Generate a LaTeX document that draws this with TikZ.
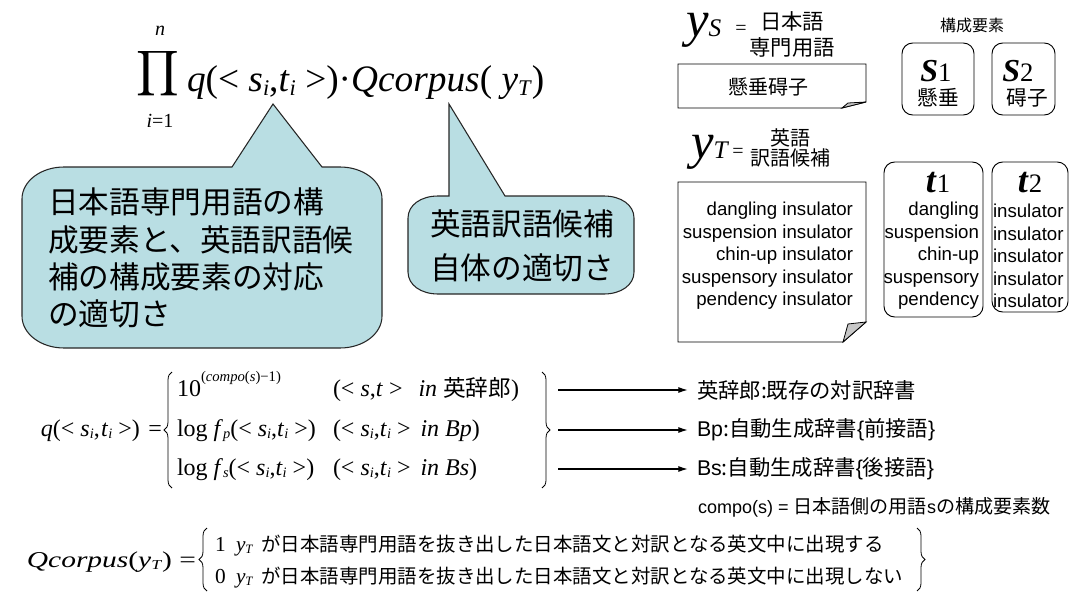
\documentclass[tikz,border=0pt]{standalone}
\usepackage{graphicx}
\usepackage{fontspec}
\setmainfont{Liberation Sans}
\newfontfamily\jp{Noto Sans CJK JP}
\newfontfamily\tms{Liberation Serif}
\usetikzlibrary{arrows.meta,decorations.pathreplacing}
\definecolor{callfill}{RGB}{185,222,227}
\newcommand{\lo}[1]{\raisebox{-0.1em}{\scalebox{0.6}{#1}}}
\newcommand{\eqf}{\tms\fontsize{18pt}{18pt}\selectfont}
\newcommand{\qjp}{\jp\fontsize{14.6pt}{14.6pt}\selectfont}
\begin{document}
\begin{tikzpicture}[x=0.75pt,y=-0.75pt,
  lab/.style={inner sep=0pt, outer sep=0pt},
  callout/.style={draw=black!85, fill=callfill, line width=0.8pt},
  docbox/.style={draw=black, line width=0.7pt},
  flap/.style={draw=black, fill=black!22, line width=0.6pt},
  rbox/.style={draw=black, line width=0.7pt, rounded corners=8pt},
  arr/.style={-{Latex[length=7pt,width=4.5pt]}, line width=0.8pt},
  brc/.style={decorate, decoration={brace, amplitude=6pt}, line width=0.6pt}]
\useasboundingbox (0,0) rectangle (1070,592);

% ---------- top formula ----------
\node[lab] (prod) at (158,74) {\resizebox*{32pt}{38pt}{$\displaystyle\prod$}};
\node[lab] (pn) at (160,31) {\tms\fontsize{15pt}{15pt}\selectfont\textit{n}};
\node[lab] (pi) at (160,121) {\tms\fontsize{15pt}{15pt}\selectfont\textit{i}=1};
\node[lab, anchor=base west] (topf) at (187,92) {\tms\fontsize{28pt}{28pt}\selectfont
  \textit{q}(< \textit{s}\lo{\textit{i}},\textit{t}\lo{\textit{i}} >)·\textit{Qcorpus}( \textit{y}\lo{\textit{T}})};

% ---------- callout 1 ----------
\draw[callout] (64,167) -- (232,167) -- (273,104) -- (322,167) -- (340,167)
  .. controls (363,167) and (382,181) .. (382,199) -- (382,316)
  .. controls (382,334) and (363,348) .. (340,348) -- (64,348)
  .. controls (41,348) and (22,334) .. (22,316) -- (22,199)
  .. controls (22,181) and (41,167) .. (64,167) -- cycle;
\node[lab, anchor=west, align=left, font=\jp\fontsize{23pt}{27.8pt}\selectfont] (c1t) at (48,258)
  {日本語専門用語の構\\成要素と、英語訳語候\\補の構成要素の対応\\の適切さ};

% ---------- callout 2 ----------
\draw[callout] (438,196) -- (449,196) -- (449,104) -- (505,196) -- (604,196)
  .. controls (621,196) and (634,205) .. (634,218) -- (634,272)
  .. controls (634,285) and (621,294) .. (604,294) -- (438,294)
  .. controls (421,294) and (408,285) .. (408,272) -- (408,218)
  .. controls (408,205) and (421,196) .. (438,196) -- cycle;
\node[lab, anchor=west, align=left, font=\jp\fontsize{23pt}{33pt}\selectfont] (c2t) at (430,246)
  {英語訳語候補\\自体の適切さ};

% ---------- y_S ----------
\node[lab, anchor=base west] (ysl) at (686,37) {\tms\fontsize{38pt}{38pt}\selectfont\textit{y}{\fontsize{19pt}{19pt}\selectfont\textit{S}}};
\node[lab] (yseq) at (741,30) {\tms\fontsize{15pt}{15pt}\selectfont =};
\node[lab, align=center, font=\jp\fontsize{16pt}{19.5pt}\selectfont] (ysj) at (792,34) {日本語\\専門用語};
\node[lab, font=\jp\fontsize{12pt}{12pt}\selectfont] (kosei) at (972,25) {構成要素};

\draw[docbox] (678,64) -- (866,64) -- (866,102) -- (842,108) -- (678,108) -- cycle;
\draw[flap] (842,108) -- (848,103) -- (866,102) -- cycle;
\node[lab, font=\jp\fontsize{15pt}{15pt}\selectfont] (kensui) at (768,87) {懸垂碍子};

\draw[rbox] (902,43) rectangle (974,115);
\node[lab, anchor=base] (s1) at (936,82) {\tms\fontsize{24pt}{24pt}\selectfont\textbf{\textit{S}}{\fontsize{20pt}{20pt}\selectfont 1}};
\node[lab, font=\jp\fontsize{15.5pt}{15.5pt}\selectfont] (s1j) at (938,98) {懸垂};
\draw[rbox] (992,43) rectangle (1055,115);
\node[lab, anchor=base] (s2) at (1018,82) {\tms\fontsize{24pt}{24pt}\selectfont\textbf{\textit{S}}{\fontsize{20pt}{20pt}\selectfont 2}};
\node[lab, font=\jp\fontsize{15.5pt}{15.5pt}\selectfont] (s2j) at (1027,98) {碍子};

% ---------- y_T ----------
\node[lab, anchor=base west] (ytl) at (691,158) {\tms\fontsize{38pt}{38pt}\selectfont\textit{y}{\fontsize{19pt}{19pt}\selectfont\textit{T}}};
\node[lab] (yteq) at (738,153) {\tms\fontsize{15pt}{15pt}\selectfont =};
\node[lab, align=center, font=\jp\fontsize{15pt}{15pt}\selectfont] (ytj) at (790,148) {英語\\訳語候補};

\draw[docbox] (678,182) -- (866,182) -- (866,322) -- (843,342) -- (678,342) -- cycle;
\draw[flap] (843,342) -- (848,324) -- (866,322) -- cycle;
\node[lab, anchor=east, align=right, font=\fontsize{14pt}{16.9pt}\selectfont] (cands) at (853,256)
  {dangling insulator\\suspension insulator\\chin-up insulator\\suspensory insulator\\pendency insulator};

\draw[rbox] (884,162) rectangle (983,317);
\node[lab, anchor=base] (t1) at (938,192) {\tms\fontsize{27pt}{27pt}\selectfont\textbf{\textit{t}}{\fontsize{20pt}{20pt}\selectfont 1}};
\node[lab, anchor=east, align=right, font=\fontsize{14pt}{16.9pt}\selectfont] (t1w) at (979,256)
  {dangling\\suspension\\chin-up\\suspensory\\pendency};
\draw[rbox] (992,162) rectangle (1068,312);
\node[lab, anchor=base] (t2) at (1030,192) {\tms\fontsize{27pt}{27pt}\selectfont\textbf{\textit{t}}{\fontsize{20pt}{20pt}\selectfont 2}};
\node[lab, anchor=west, align=left, font=\fontsize{14pt}{16.9pt}\selectfont] (t2w) at (993,256)
  {insulator\\insulator\\insulator\\insulator\\insulator};

% ---------- q equation ----------
\node[lab, anchor=base east] (qlab) at (162,436) {\eqf\textit{q}(< \textit{s}\lo{\textit{i}},\hspace{1pt}\textit{t}\lo{\textit{i}} >)\hspace{2pt} =};
\draw[brc] (172,488) -- (172,372);
\node[lab, anchor=base west] (r1a) at (177,396) {\eqf 10\raisebox{0.6em}{\fontsize{11pt}{11pt}\selectfont(\textit{compo}(\textit{s})−1)}};
\node[lab, anchor=base west] (r1b) at (333,396) {\eqf(< \textit{s},\textit{t} >\hspace{12pt}\textit{in} {\jp\fontsize{17pt}{17pt}\selectfont 英辞郎})};
\node[lab, anchor=base west] (r2a) at (177,436) {\eqf log \textit{f}\lo{\textit{p}}(< \textit{s}\lo{\textit{i}},\textit{t}\lo{\textit{i}} >)};
\node[lab, anchor=base west] (r2b) at (333,436) {\eqf(< \textit{s}\lo{\textit{i}},\textit{t}\lo{\textit{i}} >\hspace{3pt} \textit{in Bp})};
\node[lab, anchor=base west] (r3a) at (177,475) {\eqf log \textit{f}\lo{\textit{s}}(< \textit{s}\lo{\textit{i}},\textit{t}\lo{\textit{i}} >)};
\node[lab, anchor=base west] (r3b) at (333,475) {\eqf(< \textit{s}\lo{\textit{i}},\textit{t}\lo{\textit{i}} >\hspace{3pt} \textit{in Bs})};
\draw[brc] (542,372) -- (542,488);

\coordinate (a1) at (558,390);
\coordinate (a2) at (558,430);
\coordinate (a3) at (558,469);
\node[lab, anchor=west, font=\fontsize{16pt}{16pt}\selectfont] (l1) at (697,390) {\jp 英辞郎:既存の対訳辞書};
\node[lab, anchor=west, font=\fontsize{16pt}{16pt}\selectfont] (l2) at (697,430) {Bp{\jp :自動生成辞書}\{{\jp 前接語}\}};
\node[lab, anchor=west, font=\fontsize{16pt}{16pt}\selectfont] (l3) at (697,469) {Bs{\jp :自動生成辞書}\{{\jp 後接語}\}};
\draw[arr, shorten >=7pt] (a1) -- (l1.west);
\draw[arr, shorten >=7pt] (a2) -- (l2.west);
\draw[arr, shorten >=7pt] (a3) -- (l3.west);

\node[lab, anchor=west, font=\fontsize{13.5pt}{13.5pt}\selectfont] (cmp) at (698,507)
  {compo(s) = {\jp\fontsize{14.3pt}{14.3pt}\selectfont 日本語側の用語}s{\jp\fontsize{14.3pt}{14.3pt}\selectfont の構成要素数}};

% ---------- Qcorpus equation ----------
\node[lab, anchor=base east] (Qlab) at (196,567) {\scalebox{1.3}[1]{\tms\fontsize{17pt}{17pt}\selectfont\textit{Qcorpus}(\textit{y}\lo{\textit{T}}) =}};
\draw[brc] (207,591) -- (207,528);
\node[lab, anchor=base west] (Q1n) at (215,551) {\tms\fontsize{16pt}{16pt}\selectfont 1};
\node[lab, anchor=base west] (Q0n) at (215,583) {\tms\fontsize{16pt}{16pt}\selectfont 0};
\node[lab, anchor=base west] (Q1) at (236,551) {\tms\fontsize{16pt}{16pt}\selectfont\textit{y}\lo{\textit{T}}\hspace{6pt}{\qjp が日本語専門用語を抜き出した日本語文と対訳となる英文中に出現する}};
\node[lab, anchor=base west] (Q0) at (236,583) {\tms\fontsize{16pt}{16pt}\selectfont\textit{y}\lo{\textit{T}}\hspace{6pt}{\qjp が日本語専門用語を抜き出した日本語文と対訳となる英文中に出現しない}};
\draw[brc] (917,528) -- (917,591);
\end{tikzpicture}
\end{document}
